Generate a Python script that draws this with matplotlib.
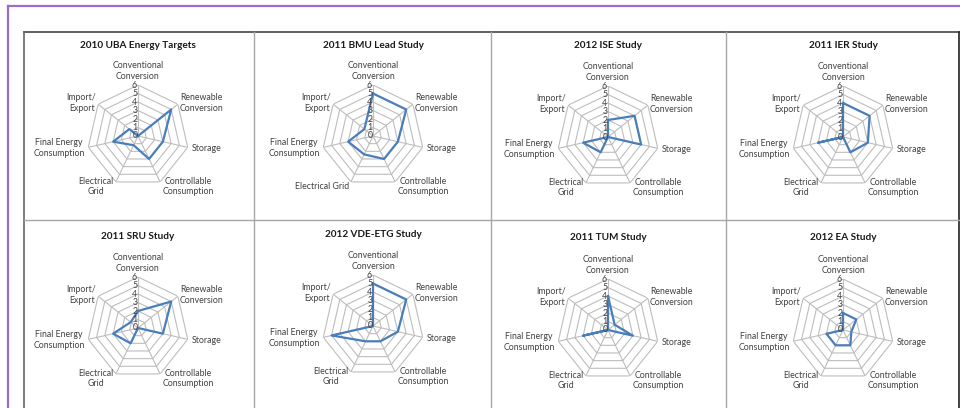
import numpy as np
import matplotlib
matplotlib.use("Agg")
import matplotlib.pyplot as plt
from matplotlib.lines import Line2D

plt.rcParams['font.family'] = ['Lato', 'DejaVu Sans']

# axis categories, clockwise from the top
categories = ['Conventional\nConversion', 'Renewable\nConversion', 'Storage',
              'Controllable\nConsumption', 'Electrical\nGrid',
              'Final Energy\nConsumption', 'Import/\nExport']
ticks = [0, 1, 2, 3, 4, 5, 6]

titles = ['2010 UBA Energy Targets', '2011 BMU Lead Study', '2012 ISE Study', '2011 IER Study',
          '2011 SRU Study', '2012 VDE-ETG Study', '2011 TUM Study', '2012 EA Study']

uba = [0, 5, 3, 3, 1.2, 3, 1.3]
bmu = [5, 5, 3, 3, 2.4, 3, 1.3]
ise = [2, 4, 4, 0, 2, 3, 0]
ier = [4, 4, 3, 2, 0, 3, 0]
sru = [2, 5, 3, 0, 2, 3, 1.1]
vde = [5, 5, 3, 2, 2, 5, 0]
tum = [4, 1, 3, 0, 0, 3, 0]
ea = [2, 2, 1, 2, 2, 2, 0]
studies = [uba, bmu, ise, ier, sru, vde, tum, ea]

W, H = 960, 408
fig = plt.figure(figsize=(W / 100, H / 100), dpi=100)

def fx(x):
    return x / W

def fy(y):
    return 1 - y / H

def hline(x0, x1, y, **kw):
    fig.add_artist(Line2D([fx(x0), fx(x1)], [fy(y), fy(y)], **kw))

def vline(x, y0, y1, **kw):
    fig.add_artist(Line2D([fx(x), fx(x)], [fy(y0), fy(y1)], **kw))

# purple page frame
hline(8, 960, 5.5, color='#9b6cc4', lw=1.6)
vline(8, 5.5, 408, color='#9b6cc4', lw=1.6)

# panel boxes
col_edges = [23.5, 254, 490.5, 725.5, 958.5]
row_edges = [32, 220, 408]
hline(23.5, 958.5, 32, color='#444444', lw=1.2)
vline(23.5, 32, 408, color='#666666', lw=1.2)
vline(958.5, 32, 408, color='#222222', lw=1.2)
for x in col_edges[1:-1]:
    vline(x, 32, 408, color='#a6a6a6', lw=1.0)
hline(23.5, 958.5, 220, color='#a6a6a6', lw=1.0)

centers = [(138, 136), (373, 136), (608, 137), (843, 137),
           (138, 328), (373, 326), (608, 330), (843, 330)]
title_y = [45, 45, 46, 46, 236, 235, 237, 237]
R = 51  # pixel radius of ring 6

n = len(categories)
theta = np.linspace(0, 2 * np.pi, n, endpoint=False)
theta_c = np.append(theta, theta[0])

# label placement (radius, ha, va) per category
label_pos = [(6.45, 'center', 'bottom'), (6.25, 'left', 'center'), (6.45, 'left', 'center'),
             (6.6, 'left', 'center'), (6.6, 'right', 'center'), (6.45, 'right', 'center'),
             (6.25, 'right', 'center')]

for k, (vals, (cx, cy)) in enumerate(zip(studies, centers)):
    ax = fig.add_axes([fx(cx - R), fy(cy + R), 2 * R / W, 2 * R / H], projection='polar')
    ax.set_theta_zero_location('N')
    ax.set_theta_direction(-1)
    ax.set_ylim(0, 6)
    ax.set_axis_off()

    for r in ticks[1:]:
        ax.plot(theta_c, [r] * (n + 1), color='#bdbdbd', lw=0.8, zorder=1)
    for t in theta:
        ax.plot([t, t], [0, ticks[-1]], color='#bdbdbd', lw=0.8, zorder=1)

    ax.plot(theta_c, list(vals) + [vals[0]], color='#4a7ebb', lw=1.6, zorder=3)

    for r in ticks:
        ax.text(-0.02, r, str(r), ha='right', va='center', fontsize=6.3,
                color='#404040', zorder=4)

    for i, lab in enumerate(categories):
        if k == 1 and i == 4:
            lab = 'Electrical Grid'
        rr, ha, va = label_pos[i]
        ax.text(theta[i], rr, lab, ha=ha, va=va, fontsize=6.3, color='#404040',
                linespacing=1.25, multialignment='center')

    fig.text(fx(cx), fy(title_y[k]), titles[k], ha='center', va='center',
             fontsize=7.2, fontweight='bold', color='#1a1a1a')

fig.savefig('out.png', dpi=100, facecolor='white')
